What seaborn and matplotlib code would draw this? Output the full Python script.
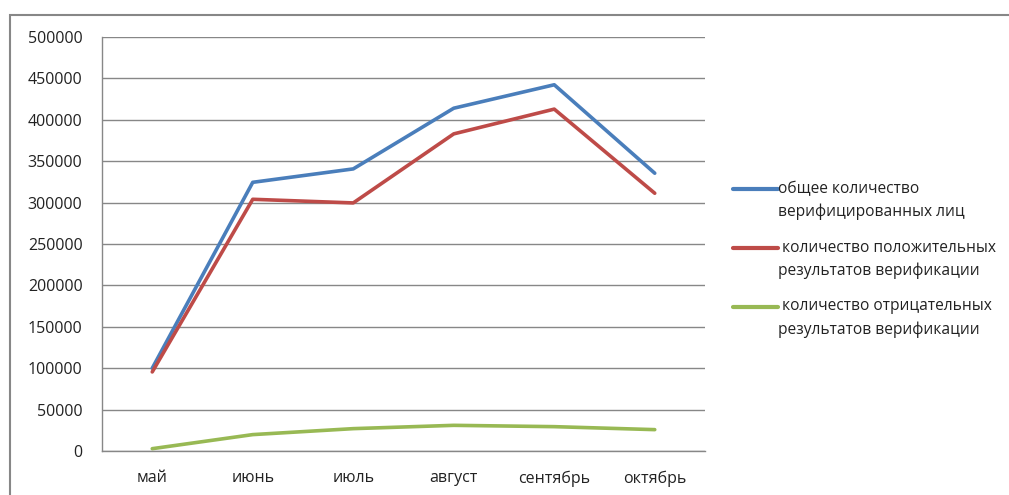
import matplotlib
matplotlib.use("Agg")
import matplotlib.pyplot as plt
import seaborn as sns
import pandas as pd
import numpy as np
from matplotlib.patches import Rectangle

months = ["май", "июнь", "июль", "август", "сентябрь", "октябрь"]
total_verified = [100000, 324500, 340700, 414000, 442300, 335500]
positive = [95500, 304000, 299600, 383000, 412900, 311300]
negative = [2800, 19800, 27000, 31000, 29400, 25800]
series_names = [
    "общее количество\nверифицированных лиц",
    " количество положительных\nрезультатов верификации",
    " количество отрицательных\nрезультатов верификации",
]
colors = ["#4A7EBB", "#BE4B48", "#98B954"]
y_ticks = list(range(0, 500001, 50000))

sns.set_theme(style="white")
plt.rcParams["font.family"] = ["Open Sans", "DejaVu Sans"]

rows = []
for name, vals in zip(series_names, [total_verified, positive, negative]):
    for i, v in enumerate(vals):
        rows.append({"pos": i, "month": months[i], "value": v, "series": name})
df = pd.DataFrame(rows)

fig = plt.figure(figsize=(10.09, 4.95), dpi=100)
ax = fig.add_axes([102/1009, 1-451/495, (705-102)/1009, (451-37)/495])

sns.lineplot(data=df, x="pos", y="value", hue="series", palette=colors,
             linewidth=2.6, ax=ax, sort=False, legend=True)

ax.set_xlim(-0.5, 5.5)
ax.set_ylim(0, 500000)
ax.set_yticks(y_ticks)
ax.set_yticklabels([str(t) for t in y_ticks], fontsize=11.5, color="#222222")
ax.set_xticks(range(len(months)))
ax.set_xticklabels(months, fontsize=11.5, color="#222222")
ax.set_xticks(np.arange(-0.5, 5.6, 1.0), minor=True)
ax.tick_params(axis="x", which="major", length=0, pad=14)
ax.tick_params(axis="x", which="minor", length=5, width=1, color="#878787", direction="out")
ax.tick_params(axis="y", length=5, width=1, color="#878787", direction="out", pad=9)
ax.set_xlabel("")
ax.set_ylabel("")
ax.grid(axis="y", color="#878787", linewidth=1)
ax.set_axisbelow(True)
for s in ["top", "right"]:
    ax.spines[s].set_visible(False)
for s in ["left", "bottom"]:
    ax.spines[s].set_color("#878787")
    ax.spines[s].set_linewidth(1)

leg = ax.legend(loc="upper left", bbox_to_anchor=(725/1009, 1-173/495),
                bbox_transform=fig.transFigure, frameon=False, fontsize=11.2,
                handlelength=2.9, handletextpad=0.0, labelspacing=1.25,
                borderpad=0)
for line in leg.get_lines():
    line.set_linewidth(3)
    line.set_ydata(np.asarray(line.get_ydata(), dtype=float) + 8.4)
for t in leg.get_texts():
    t.set_color("#222222")
    t.set_linespacing(1.55)

# outer frame (top and left edges visible)
fig.patches.append(Rectangle((10/1009, -0.2), 1.2, 1 - 15/495 + 0.2,
                             transform=fig.transFigure, fill=False,
                             edgecolor="#878787", linewidth=1.5))

fig.savefig("out.png", dpi=100)
